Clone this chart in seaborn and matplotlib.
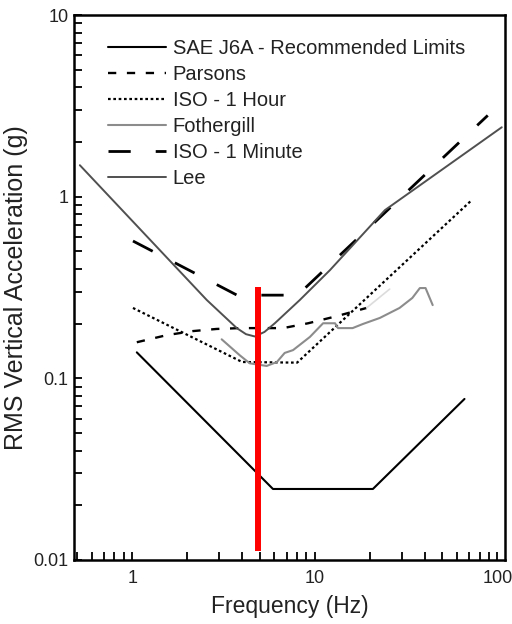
import matplotlib
matplotlib.use("Agg")
import matplotlib.pyplot as plt
from matplotlib.ticker import NullFormatter
import seaborn as sns
import numpy as np
import pandas as pd

# ---- data ----
sae_f = [1.06, 5.9, 20.8, 66.0]
sae_g = [0.139, 0.0246, 0.0246, 0.077]

parsons_f = [1.06, 1.55, 2.15, 2.9, 3.9, 6.7, 9.2, 13.2, 19.2]
parsons_g = [0.158, 0.173, 0.182, 0.187, 0.189, 0.189, 0.201, 0.220, 0.244]
parsons_tail_f = [19.2, 25.7]
parsons_tail_g = [0.244, 0.31]

iso1h_f = [1.01, 4.0, 8.0, 72.3]
iso1h_g = [0.244, 0.123, 0.122, 0.957]

foth_f = [3.09, 3.88, 4.4, 5.45, 6.2, 6.84, 7.6, 9.4, 11.1, 12.9, 13.4, 16.1, 18.3,
          22.7, 29.1, 34.2, 37.6, 40.4, 44.2]
foth_g = [0.164, 0.134, 0.121, 0.117, 0.123, 0.138, 0.143, 0.169, 0.201, 0.201, 0.189,
          0.189, 0.199, 0.215, 0.244, 0.277, 0.314, 0.314, 0.253]

iso1m_f = [1.01, 3.75, 8.05, 88.5]
iso1m_g = [0.57, 0.287, 0.287, 2.8]

lee_f = [0.517, 2.56, 3.74, 4.2, 4.69, 5.3, 6.04, 8.28, 12.1, 24.2, 105.6]
lee_g = [1.49, 0.270, 0.189, 0.175, 0.170, 0.180, 0.201, 0.27, 0.394, 0.843, 2.41]

red_f = [4.86, 4.86]
red_g = [0.0112, 0.318]

xticks = [1, 10, 100]
xticklabels = ["1", "10", "100"]
yticks = [0.01, 0.1, 1, 10]
yticklabels = ["0.01", "0.1", "1", "10"]

# ---- style ----
sns.set_style("white")
plt.rcParams['font.family'] = ['Liberation Sans', 'DejaVu Sans']

fig = plt.figure(figsize=(5.12, 6.24), dpi=100)
ax = fig.add_axes([74.3 / 512, 1 - 560 / 624, (505 - 74.3) / 512, (560 - 15) / 624])

kw = dict(ax=ax, estimator=None, sort=False)
sns.lineplot(x=sae_f, y=sae_g, color="black", lw=1.5, label="SAE J6A - Recommended Limits", **kw)
sns.lineplot(x=parsons_f, y=parsons_g, color="black", lw=1.7, linestyle=(0, (3.5, 4.5)), label="Parsons", **kw)
sns.lineplot(x=iso1h_f, y=iso1h_g, color="black", lw=1.6, linestyle=(0, (1.2, 1.2)), label="ISO - 1 Hour", **kw)
sns.lineplot(x=foth_f, y=foth_g, color="#8c8c8c", lw=1.5, label="Fothergill", **kw)
sns.lineplot(x=iso1m_f, y=iso1m_g, color="black", lw=2.0, linestyle=(0, (8, 9)), label="ISO - 1 Minute", **kw)
sns.lineplot(x=lee_f, y=lee_g, color="#505050", lw=1.4, label="Lee", **kw)
sns.lineplot(x=parsons_tail_f, y=parsons_tail_g, color="#dcdcdc", lw=1.2, **kw)
sns.lineplot(x=red_f, y=red_g, color="#ff0000", lw=4.3, solid_capstyle="butt", **kw)

ax.set_xscale("log")
ax.set_yscale("log")
ax.set_xlim(0.482, 110)
ax.set_ylim(0.01, 10)

ax.set_xlabel("Frequency (Hz)", fontsize=16.5, color="#222222", labelpad=6)
ax.set_ylabel("RMS Vertical Acceleration (g)", fontsize=18, color="#222222", labelpad=4)

leg = ax.legend(loc="upper left", bbox_to_anchor=(0.06, 0.970), frameon=False,
                fontsize=14.5, handlelength=2.85, handletextpad=0.35,
                labelspacing=0.34, borderaxespad=0)
for t in leg.get_texts():
    t.set_color("#222222")

# ---- axes / ticks (applied last) ----
ax.set_xticks(xticks)
ax.set_xticklabels(xticklabels)
ax.set_yticks(yticks)
ax.set_yticklabels(yticklabels)
ax.xaxis.set_minor_formatter(NullFormatter())
ax.yaxis.set_minor_formatter(NullFormatter())

for s in ax.spines.values():
    s.set_color("black")
    s.set_linewidth(1.8)

ax.xaxis.set_tick_params(which="both", direction="in", length=6, width=1.3, color="black",
                         bottom=True, top=False)
ax.yaxis.set_tick_params(which="both", direction="in", length=6, width=1.3, color="black",
                         left=True, right=False)
ax.tick_params(axis="y", which="major", labelsize=13, pad=4, labelcolor="#222222")
ax.tick_params(axis="x", which="major", labelsize=13, pad=7, labelcolor="#222222")

fig.savefig("out.png", dpi=100)
